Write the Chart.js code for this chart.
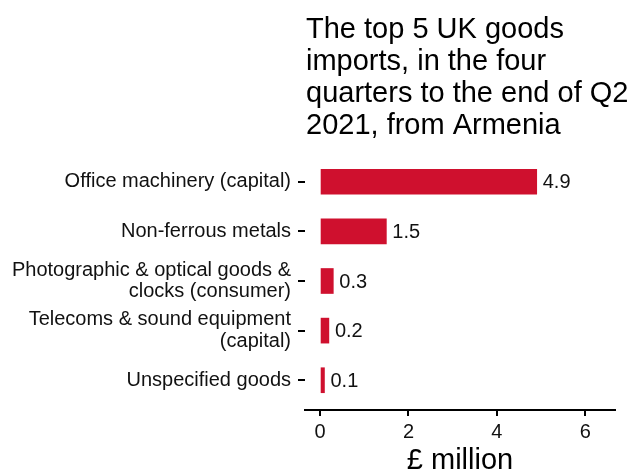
<!DOCTYPE html>
<html>
<head>
<meta charset="utf-8">
<script src="https://cdn.jsdelivr.net/npm/chart.js@4/dist/chart.umd.min.js"></script>
<style>
  html, body { margin: 0; padding: 0; background: #fff; }
  #wrap { width: 634px; height: 473px; }
</style>
</head>
<body>
<div id="wrap"><canvas id="chartImports"></canvas></div>
<script>
// data
var categories = [
    'Office machinery (capital)',
    'Non-ferrous metals',
    ['Photographic & optical goods &', 'clocks (consumer)'],
    ['Telecoms & sound equipment', '(capital)'],
    'Unspecified goods'
];
var values = [4.9, 1.5, 0.3, 0.2, 0.1];
var valueLabels = ['4.9', '1.5', '0.3', '0.2', '0.1'];
var xTicks = [0, 2, 4, 6];
var titleLines = ['The top 5 UK goods', 'imports, in the four', 'quarters to the end of Q2', '2021, from Armenia'];

var FONT = '"Liberation Sans", Arial, sans-serif';

// title drawn at the plot's left edge, like the original
var titlePlugin = {
    id: 'leftTitle',
    afterDraw: function (chart) {
        var c = chart.ctx;
        c.save();
        c.fillStyle = '#000';
        c.font = '29px ' + FONT;
        c.textBaseline = 'alphabetic';
        c.textAlign = 'left';
        for (var i = 0; i < titleLines.length; i++) {
            c.fillText(titleLines[i], 306, 38 + i * 32);
        }
        c.restore();
    }
};

// value labels to the right of each bar
var valuePlugin = {
    id: 'valueLabels',
    afterDatasetsDraw: function (chart) {
        var c = chart.ctx;
        var meta = chart.getDatasetMeta(0);
        c.save();
        c.fillStyle = '#111';
        c.font = '20px ' + FONT;
        c.textBaseline = 'middle';
        c.textAlign = 'left';
        meta.data.forEach(function (bar, i) {
            c.fillText(valueLabels[i], bar.x + 6, bar.y + 1);
        });
        c.restore();
    }
};

var ctx = document.getElementById('chartImports').getContext('2d');
var chartImports = new Chart(ctx, {
    type: 'bar',
    data: {
        datasets: [{
            label: '£ million',
            backgroundColor: 'rgb(207, 16, 46)',
            borderWidth: 0,
            barThickness: 25,
            data: values.map(function (v, i) { return { x: v, y: i }; })
        }]
    },
    options: {
        indexAxis: 'y',
        responsive: true,
        maintainAspectRatio: false,
        animation: false,
        layout: { padding: { top: 152, right: 19, left: 0, bottom: 0 } },
        plugins: {
            legend: { display: false },
            tooltip: { enabled: false }
        },
        scales: {
            x: {
                type: 'linear',
                min: -0.34,
                max: 6.67,
                afterBuildTicks: function (scale) {
                    scale.ticks = xTicks.map(function (v) { return { value: v }; });
                },
                afterFit: function (scale) { scale.height = 63; },
                border: { display: true, color: '#000', width: 2 },
                grid: { drawOnChartArea: false, color: '#000', lineWidth: 2, tickLength: 6 },
                ticks: { color: '#111', font: { family: FONT, size: 20 }, padding: 4 },
                title: {
                    display: true,
                    text: '£ million',
                    color: '#000',
                    font: { family: FONT, size: 29 },
                    padding: { top: 0, bottom: -5 }
                }
            },
            y: {
                type: 'linear',
                min: -0.6,
                max: 4.6,
                reverse: true,
                offset: false,
                afterBuildTicks: function (scale) {
                    scale.ticks = categories.map(function (c, i) { return { value: i }; });
                },
                afterFit: function (scale) { scale.width = 305; },
                border: { display: false },
                grid: { offset: false, drawOnChartArea: false, color: '#000', lineWidth: 2, tickLength: 7 },
                ticks: {
                    color: '#111',
                    font: { family: FONT, size: 20, lineHeight: 1.08 },
                    padding: 7,
                    callback: function (v) { return categories[v]; }
                }
            }
        }
    },
    plugins: [titlePlugin, valuePlugin]
});
</script>
</body>
</html>
